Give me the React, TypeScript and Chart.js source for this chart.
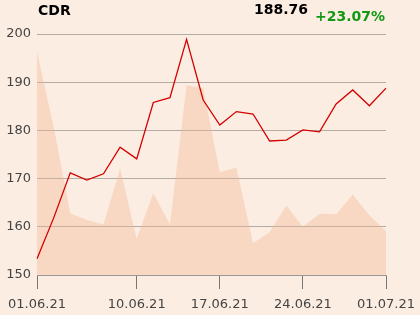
import React, { useEffect, useRef } from "react";
import { Chart, registerables } from "chart.js";

Chart.register(...registerables);

const labels = [
  "01.06.21", "02.06.21", "04.06.21", "07.06.21", "08.06.21", "09.06.21",
  "10.06.21", "11.06.21", "14.06.21", "15.06.21", "16.06.21", "17.06.21",
  "18.06.21", "21.06.21", "22.06.21", "23.06.21", "24.06.21", "25.06.21",
  "28.06.21", "29.06.21", "30.06.21", "01.07.21",
];

const prices = [
  153.37, 161.8, 171.2, 169.7, 171.0, 176.5, 174.1, 185.8, 186.8, 198.9, 186.3,
  181.1, 183.9, 183.4, 177.8, 178.0, 180.1, 179.7, 185.5, 188.4, 185.1, 188.76,
];

const areaValues = [
  196.3, 180.8, 162.8, 161.4, 160.5, 172.1, 157.5, 167.0, 160.5, 189.4, 188.7,
  171.3, 172.3, 156.6, 158.9, 164.4, 160.0, 162.7, 162.6, 166.7, 162.4, 159.1,
];

const shownTicks = [0, 6, 11, 16, 21];
const yTicks = [150, 160, 170, 180, 190, 200];

const title = "CDR";
const lastValue = "188.76";
const change = "+23.07%";

const FONT = "'DejaVu Sans', sans-serif";

export default function App() {
  const ref = useRef<HTMLCanvasElement | null>(null);

  useEffect(() => {
    if (!ref.current) return;
    const headerPlugin = {
      id: "header",
      afterDraw(chart: any) {
        const ctx = chart.ctx;
        ctx.save();
        ctx.font = `bold 14px ${FONT}`;
        ctx.textBaseline = "alphabetic";
        ctx.fillStyle = "#000";
        ctx.textAlign = "left";
        ctx.fillText(title, 38, 15);
        ctx.textAlign = "right";
        ctx.fillText(lastValue, 308, 14);
        ctx.fillStyle = "#119911";
        ctx.fillText(change, 385, 21);
        ctx.restore();
      },
    };

    const chart = new Chart(ref.current, {
      type: "line",
      data: {
        labels,
        datasets: [
          {
            data: prices,
            borderColor: "#d40000",
            borderWidth: 1.3,
            pointRadius: 0,
            fill: false,
            tension: 0,
            order: 0,
          },
          {
            data: areaValues,
            backgroundColor: "rgba(240,180,140,0.36)",
            borderWidth: 0,
            borderColor: "transparent",
            pointRadius: 0,
            fill: "start",
            tension: 0,
            order: 1,
          },
        ],
      },
      options: {
        responsive: false,
        animation: false,
        layout: { padding: { top: 34, right: 34, left: 0, bottom: 0 } },
        plugins: { legend: { display: false }, tooltip: { enabled: false } },
        scales: {
          y: {
            min: 150,
            max: 200,
            afterBuildTicks: (scale: any) => {
              scale.ticks = yTicks.map((v) => ({ value: v }));
            },
            afterFit: (scale: any) => {
              scale.width = 37;
              scale.paddingTop = 0;
              scale.paddingBottom = 0;
            },
            ticks: {
              font: { family: FONT, size: 13 },
              color: "#444",
              padding: 6,
            },
            grid: { color: "#b3aca6", drawTicks: false, lineWidth: 1 },
            border: { display: false },
          },
          x: {
            offset: false,
            afterFit: (scale: any) => {
              scale.height = 40;
              scale.paddingLeft = 0;
              scale.paddingRight = 0;
            },
            ticks: {
              autoSkip: false,
              maxRotation: 0,
              font: { family: FONT, size: 13 },
              color: "#444",
              padding: 8,
              callback: (_v: any, i: number) => (shownTicks.includes(i) ? labels[i] : ""),
            },
            grid: {
              drawOnChartArea: false,
              tickLength: 14,
              color: (c: any) => (shownTicks.includes(c.index) ? "#777" : "rgba(0,0,0,0)"),
            },
            border: { display: true, color: "#999" },
          },
        },
      },
      plugins: [headerPlugin],
    });
    return () => chart.destroy();
  }, []);

  return (
    <div
      style={{
        position: "fixed",
        left: 0,
        top: 0,
        width: 420,
        height: 315,
        background: "#fcede2",
      }}
    >
      <canvas ref={ref} width={420} height={315} />
    </div>
  );
}
